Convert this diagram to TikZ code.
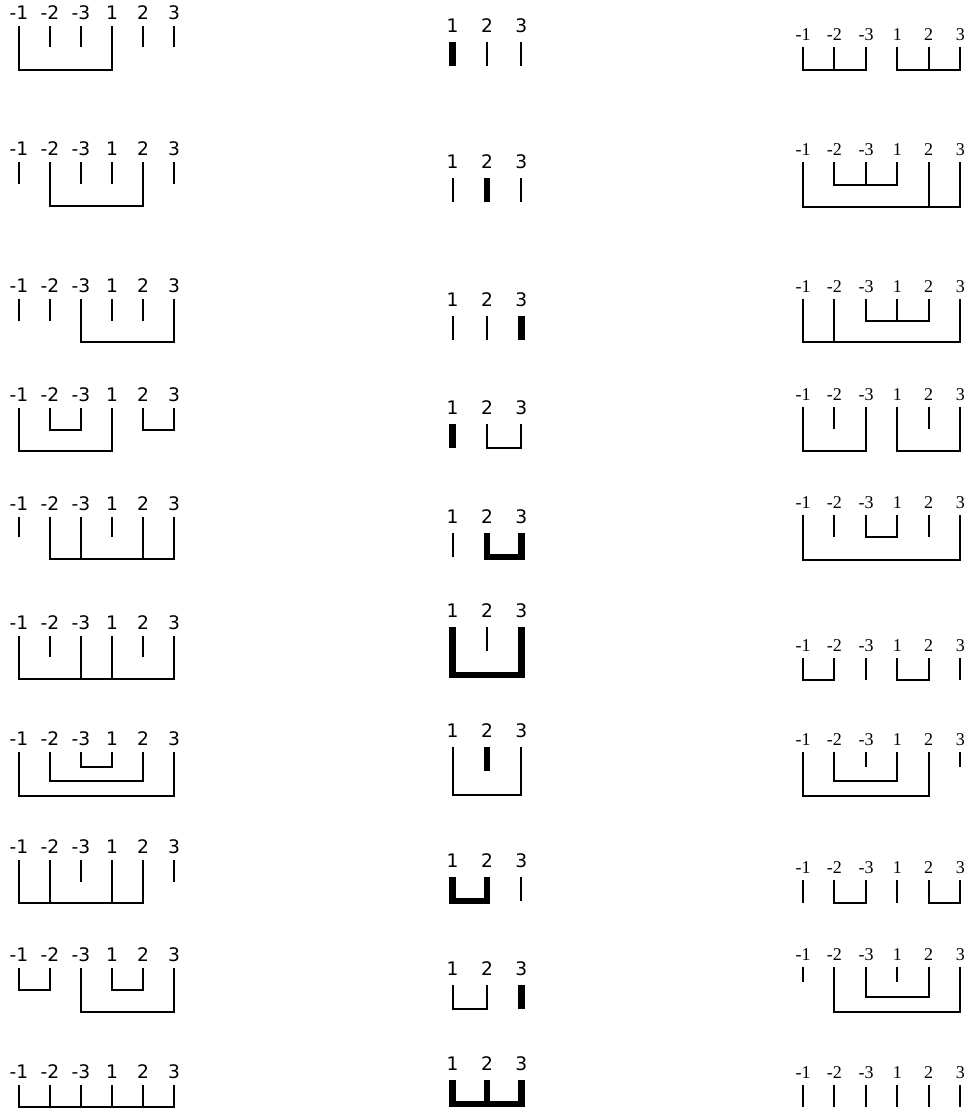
\documentclass[tikz,border=0pt]{standalone}
\usepackage{fontspec}
\newfontfamily\dvs{DejaVu Sans}
\newfontfamily\lsr{Liberation Serif}
\tikzset{
  thinln/.style={line width=1.5pt,line cap=butt,line join=miter},
  thickln/.style={line width=4.9pt,line cap=butt,line join=miter},
  lblL/.style={inner sep=0pt,font=\dvs\fontsize{14}{16}\selectfont},
  lblM/.style={inner sep=0pt,font=\dvs\fontsize{14}{16}\selectfont},
  lblR/.style={inner sep=0pt,font=\lsr\fontsize{13.5}{16}\selectfont},
}
% vertical strand: [style]{x}{top}{bottom}
\newcommand\Vln[4][thinln]{\draw[#1] (#2,#3) -- (#2,#4);}
% bracket: [style]{x1}{x2}{top}{bottom}
\newcommand\Brk[5][thinln]{\draw[#1] (#2,#4) -- (#2,#5) -- (#3,#5) -- (#3,#4);}
% labels of left / middle / right columns
\newcommand\LabL[2]{%
  \node[lblL] (#1a) at (19,#2) {-1};
  \node[lblL] (#1b) at (50,#2) {-2};
  \node[lblL] (#1c) at (81,#2) {-3};
  \node[lblL] (#1d) at (112,#2) {1};
  \node[lblL] (#1e) at (143,#2) {2};
  \node[lblL] (#1f) at (174,#2) {3};}
\newcommand\LabM[2]{%
  \node[lblM] (#1p) at (452.5,#2) {1};
  \node[lblM] (#1q) at (487,#2) {2};
  \node[lblM] (#1r) at (521.3,#2) {3};}
\newcommand\LabR[2]{%
  \node[lblR] (#1a) at (803,#2) {-1};
  \node[lblR] (#1b) at (834.3,#2) {-2};
  \node[lblR] (#1c) at (866,#2) {-3};
  \node[lblR] (#1d) at (897.3,#2) {1};
  \node[lblR] (#1e) at (928.7,#2) {2};
  \node[lblR] (#1f) at (960.3,#2) {3};}
\begin{document}
\begin{tikzpicture}[x=0.75pt,y=-0.75pt]
\useasboundingbox (0,0) rectangle (970,1113);
\fill[white] (0,0) rectangle (970,1113);
% ================= LEFT COLUMN  (a=19 b=50 c=81 d=112 e=143 f=174)
% row 1
\LabL{la1}{12.5}
\Brk{19}{112}{26}{70}
\Vln{50}{26}{47.5}\Vln{81}{26}{47.5}\Vln{143}{26}{47.5}\Vln{174}{26}{47.5}
% row 2
\LabL{la2}{148.5}
\Brk{50}{143}{162}{206}
\Vln{19}{162}{184}\Vln{81}{162}{184}\Vln{112}{162}{184}\Vln{174}{162}{184}
% row 3
\LabL{la3}{285.5}
\Brk{81}{174}{299}{342}
\Vln{19}{299}{320.5}\Vln{50}{299}{320.5}\Vln{112}{299}{320.5}\Vln{143}{299}{320.5}
% row 4
\LabL{la4}{394.5}
\Brk{19}{112}{408}{451}
\Brk{50}{81}{408}{429.5}
\Brk{143}{174}{408}{429.5}
% row 5
\LabL{la5}{503.5}
\Brk{50}{174}{517}{559}
\Vln{81}{517}{559}\Vln{143}{517}{559}
\Vln{19}{517}{537}\Vln{112}{517}{537}
% row 6
\LabL{la6}{622.5}
\Brk{19}{174}{636}{679}
\Vln{81}{636}{679}\Vln{112}{636}{679}
\Vln{50}{636}{657}\Vln{143}{636}{657}
% row 7
\LabL{la7}{738.5}
\Brk{81}{112}{752}{766.5}
\Brk{50}{143}{752}{781}
\Brk{19}{174}{752}{795.5}
% row 8
\LabL{la8}{846.5}
\Brk{19}{143}{860}{903}
\Vln{50}{860}{903}\Vln{112}{860}{903}
\Vln{81}{860}{882}\Vln{174}{860}{882}
% row 9
\LabL{la9}{954.5}
\Brk{19}{50}{968}{990}
\Brk{81}{174}{968}{1012}
\Brk{112}{143}{968}{990}
% row 10
\LabL{la10}{1071.5}
\Brk{19}{174}{1085}{1107}
\Vln{50}{1085}{1107}\Vln{81}{1085}{1107}\Vln{112}{1085}{1107}\Vln{143}{1085}{1107}
% ================= MIDDLE COLUMN (p=452.5 q=487 r=521.3)
% row 1
\LabM{m1}{25.7}
\Vln[thickln]{452.5}{41.7}{65.7}\Vln{487}{41.7}{65.7}\Vln{521.3}{41.7}{65.7}
% row 2
\LabM{m2}{162}
\Vln{452.5}{178}{202}\Vln[thickln]{487}{178}{202}\Vln{521.3}{178}{202}
% row 3
\LabM{m3}{300}
\Vln{452.5}{316}{340}\Vln{487}{316}{340}\Vln[thickln]{521.3}{316}{340}
% row 4
\LabM{m4}{408}
\Vln[thickln]{452.5}{424}{448}
\Brk{487}{521.3}{424}{448}
% row 5
\LabM{m5}{517}
\Vln{452.5}{533}{557}
\Brk[thickln]{487}{521.3}{533}{557}
% row 6
\LabM{m6}{611}
\Brk[thickln]{452.5}{521.3}{627}{675}
\Vln{487}{627}{651}
% row 7
\LabM{m7}{731}
\Brk{452.5}{521.3}{747}{795}
\Vln[thickln]{487}{747}{771}
% row 8
\LabM{m8}{861}
\Brk[thickln]{452.5}{487}{877}{901}
\Vln{521.3}{877}{901}
% row 9
\LabM{m9}{969}
\Brk{452.5}{487}{985}{1009}
\Vln[thickln]{521.3}{985}{1009}
% row 10
\LabM{m10}{1064}
\Brk[thickln]{452.5}{521.3}{1080}{1104}
\Vln[thickln]{487}{1080}{1104}
% ================= RIGHT COLUMN (a=803 b=834.3 c=866 d=897.3 e=928.7 f=960.3)
% row 1
\LabR{r1}{35}
\Brk{803}{866}{47}{70}\Vln{834.3}{47}{70}
\Brk{897.3}{960.3}{47}{70}\Vln{928.7}{47}{70}
% row 2
\LabR{r2}{150}
\Brk{834.3}{897.3}{162}{184.5}\Vln{866}{162}{184.5}
\Brk{803}{960.3}{162}{207}\Vln{928.7}{162}{207}
% row 3
\LabR{r3}{287}
\Brk{866}{928.7}{299}{320.5}\Vln{897.3}{299}{320.5}
\Brk{803}{960.3}{299}{342}\Vln{834.3}{299}{342}
% row 4
\LabR{r4}{395}
\Brk{803}{866}{407}{451}\Vln{834.3}{407}{429}
\Brk{897.3}{960.3}{407}{451}\Vln{928.7}{407}{429}
% row 5
\LabR{r5}{503}
\Brk{803}{960.3}{515}{560}
\Vln{834.3}{515}{537}
\Brk{866}{897.3}{515}{537}
\Vln{928.7}{515}{537}
% row 6
\LabR{r6}{646}
\Brk{803}{834.3}{658}{680}\Vln{866}{658}{680}
\Brk{897.3}{928.7}{658}{680}\Vln{960.3}{658}{680}
% row 7
\LabR{r7}{740}
\Vln{866}{752}{766.5}\Vln{960.3}{752}{766.5}
\Brk{834.3}{897.3}{752}{781}
\Brk{803}{928.7}{752}{795.5}
% row 8
\LabR{r8}{868}
\Vln{803}{880}{903}\Brk{834.3}{866}{880}{903}
\Vln{897.3}{880}{903}\Brk{928.7}{960.3}{880}{903}
% row 9
\LabR{r9}{955}
\Vln{803}{967}{981.5}\Vln{897.3}{967}{981.5}
\Brk{866}{928.7}{967}{996.5}
\Brk{834.3}{960.3}{967}{1011.5}
% row 10
\LabR{r10}{1073}
\Vln{803}{1085}{1107}\Vln{834.3}{1085}{1107}\Vln{866}{1085}{1107}
\Vln{897.3}{1085}{1107}\Vln{928.7}{1085}{1107}\Vln{960.3}{1085}{1107}
\end{tikzpicture}
\end{document}
